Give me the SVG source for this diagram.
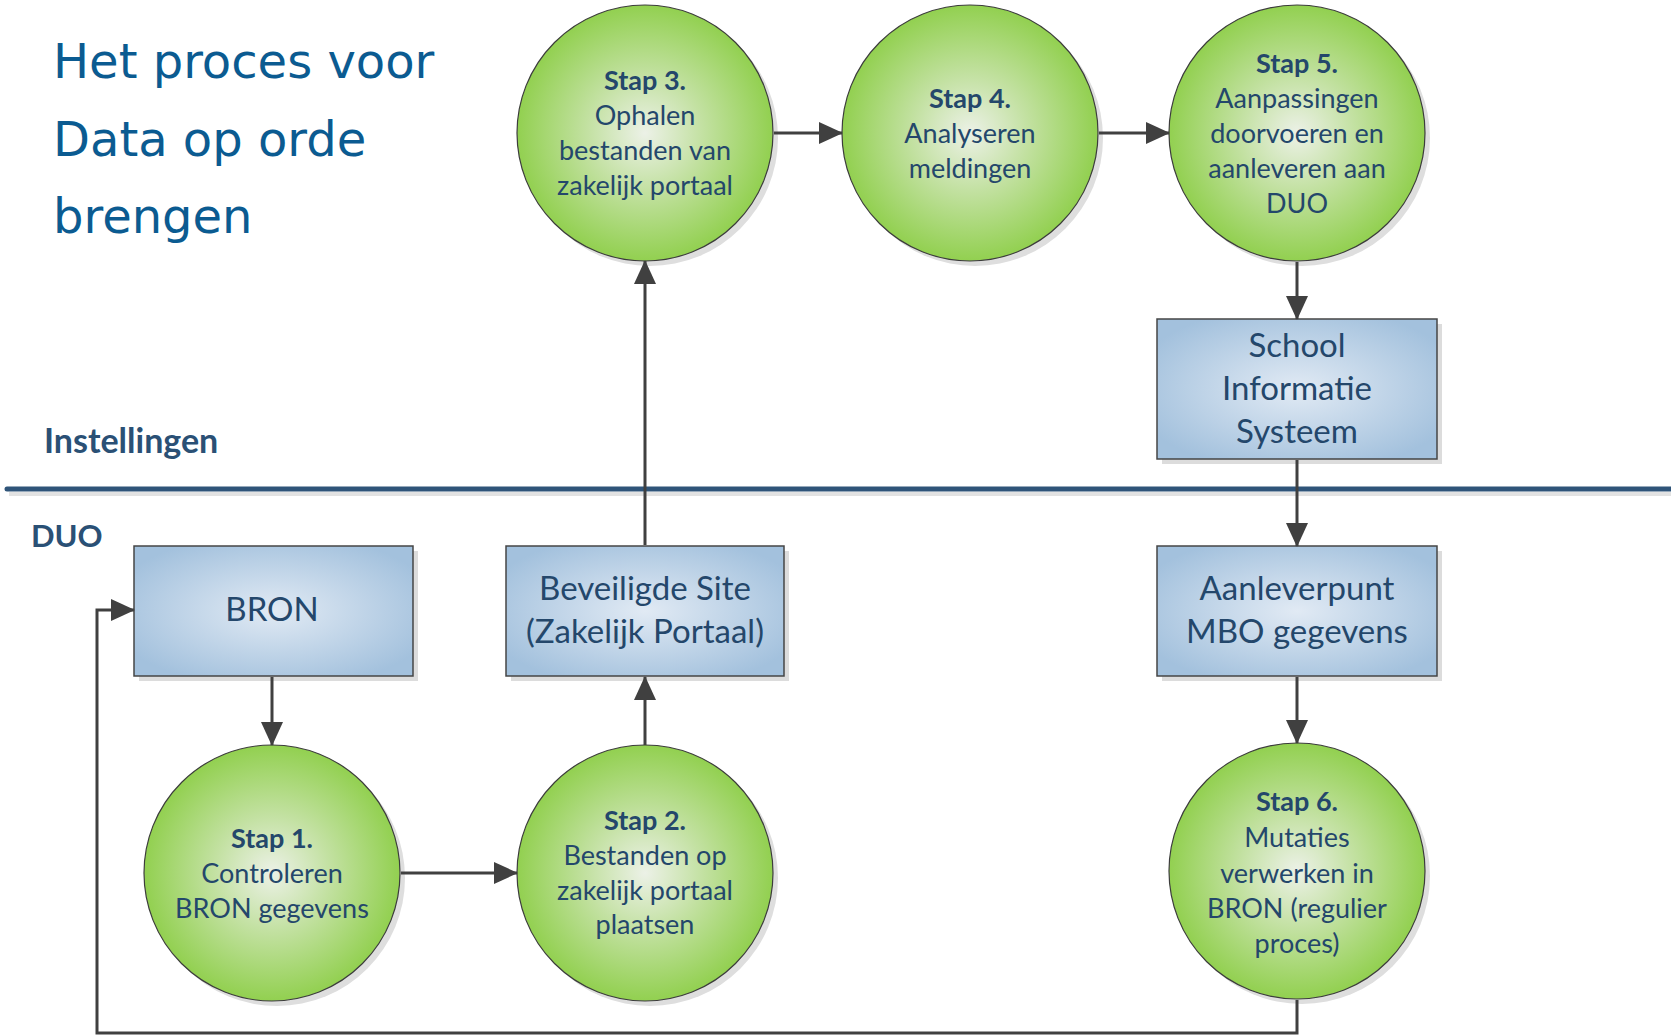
<svg xmlns="http://www.w3.org/2000/svg" width="1671" height="1036" viewBox="0 0 1671 1036">
<style>
.title{font-family:"DejaVu Sans",Verdana,sans-serif;font-size:48px;fill:#0b5b91}
.lane{font-family:Lato,"Liberation Sans",sans-serif;font-weight:bold;font-size:34px;fill:#2a5075}
.ct{font-family:Lato,"Liberation Sans",sans-serif;font-size:27px;fill:#24476b;text-anchor:middle}
.ct .b{font-weight:bold}
.rt{font-family:Lato,"Liberation Sans",sans-serif;font-size:33px;fill:#24476b;text-anchor:middle}
.circ{fill:url(#gGreen);stroke:#3c3c3c;stroke-width:1.2}
.csh{fill:#dedede}
.box{fill:url(#gBlue);stroke:#454545;stroke-width:1.5}
.bsh{fill:#dcdcdc}
.con{fill:none;stroke:#404040;stroke-width:3;marker-end:url(#arr)}
</style>
<defs>
<radialGradient id="gGreen" cx="0.5" cy="0.5" r="0.5">
<stop offset="0" stop-color="#ecf1e7"/>
<stop offset="0.45" stop-color="#c3e1a2"/>
<stop offset="1" stop-color="#92d050"/>
</radialGradient>
<radialGradient id="gBlue" cx="0.5" cy="0.5" r="0.6">
<stop offset="0" stop-color="#e1eaf4"/>
<stop offset="1" stop-color="#a3c1dd"/>
</radialGradient>
<marker id="arr" viewBox="0 0 24 22" refX="23" refY="11" markerWidth="24" markerHeight="22" markerUnits="userSpaceOnUse" orient="auto">
<path d="M0,0 L24,11 L0,22 Z" fill="#404040"/>
</marker>
</defs>
<rect width="1671" height="1036" fill="#ffffff"/>

<g id="title">
<text class="title" x="53" y="78">Het proces voor</text>
<text class="title" x="53" y="156">Data op orde</text>
<text class="title" x="53" y="233">brengen</text>
</g>

<g id="divider">
<line x1="9" y1="494" x2="1671" y2="494" stroke="#e2e2e2" stroke-width="4"/>
<line x1="7" y1="489" x2="1671" y2="489" stroke="#2f5479" stroke-width="5" stroke-linecap="round"/>
<text class="lane" x="44" y="453">Instellingen</text>
<text class="lane" x="31" y="547" style="font-size:31px">DUO</text>
</g>

<g id="bron">
<rect class="bsh" x="139" y="551" width="279" height="130"/>
<rect class="box" x="134" y="546" width="279" height="130"/>
<text class="rt" x="272" y="621">BRON</text>
</g>

<g id="beveiligde-site">
<rect class="bsh" x="511" y="551" width="278" height="130"/>
<rect class="box" x="506" y="546" width="278" height="130"/>
<text class="rt" x="645" y="600">Beveiligde Site</text>
<text class="rt" x="645" y="643">(Zakelijk Portaal)</text>
</g>

<g id="aanleverpunt">
<rect class="bsh" x="1162" y="551" width="280" height="130"/>
<rect class="box" x="1157" y="546" width="280" height="130"/>
<text class="rt" x="1297" y="600">Aanleverpunt</text>
<text class="rt" x="1297" y="643">MBO gegevens</text>
</g>

<g id="sis">
<rect class="bsh" x="1162" y="324" width="280" height="140"/>
<rect class="box" x="1157" y="319" width="280" height="140"/>
<text class="rt" x="1297" y="357">School</text>
<text class="rt" x="1297" y="400">Informatie</text>
<text class="rt" x="1297" y="443">Systeem</text>
</g>

<g id="stap1">
<circle class="csh" cx="277" cy="878" r="128"/>
<circle class="circ" cx="272" cy="873" r="128"/>
<text class="ct"><tspan class="b" x="272" y="848">Stap 1.</tspan><tspan x="272" y="883">Controleren</tspan><tspan x="272" y="918">BRON gegevens</tspan></text>
</g>

<g id="stap2">
<circle class="csh" cx="650" cy="878" r="128"/>
<circle class="circ" cx="645" cy="873" r="128"/>
<text class="ct"><tspan class="b" x="645" y="830">Stap 2.</tspan><tspan x="645" y="865">Bestanden op</tspan><tspan x="645" y="900">zakelijk portaal</tspan><tspan x="645" y="934">plaatsen</tspan></text>
</g>

<g id="stap3">
<circle class="csh" cx="650" cy="138" r="128"/>
<circle class="circ" cx="645" cy="133" r="128"/>
<text class="ct"><tspan class="b" x="645" y="90">Stap 3.</tspan><tspan x="645" y="125">Ophalen</tspan><tspan x="645" y="160">bestanden van</tspan><tspan x="645" y="195">zakelijk portaal</tspan></text>
</g>

<g id="stap4">
<circle class="csh" cx="975" cy="138" r="128"/>
<circle class="circ" cx="970" cy="133" r="128"/>
<text class="ct"><tspan class="b" x="970" y="108">Stap 4.</tspan><tspan x="970" y="143">Analyseren</tspan><tspan x="970" y="178">meldingen</tspan></text>
</g>

<g id="stap5">
<circle class="csh" cx="1302" cy="138" r="128"/>
<circle class="circ" cx="1297" cy="133" r="128"/>
<text class="ct"><tspan class="b" x="1297" y="73">Stap 5.</tspan><tspan x="1297" y="108">Aanpassingen</tspan><tspan x="1297" y="143">doorvoeren en</tspan><tspan x="1297" y="178">aanleveren aan</tspan><tspan x="1297" y="213">DUO</tspan></text>
</g>

<g id="stap6">
<circle class="csh" cx="1302" cy="876" r="128"/>
<circle class="circ" cx="1297" cy="871" r="128"/>
<text class="ct"><tspan class="b" x="1297" y="811">Stap 6.</tspan><tspan x="1297" y="847">Mutaties</tspan><tspan x="1297" y="883">verwerken in</tspan><tspan x="1297" y="918">BRON (regulier</tspan><tspan x="1297" y="953">proces)</tspan></text>
</g>

<g id="connectors">
<path class="con" d="M272,677 V745"/>
<path class="con" d="M401,873 H517"/>
<path class="con" d="M645,745 V677"/>
<path class="con" d="M645,545 V261"/>
<path class="con" d="M774,133 H842"/>
<path class="con" d="M1099,133 H1169"/>
<path class="con" d="M1297,262 V319"/>
<path class="con" d="M1297,460 V546"/>
<path class="con" d="M1297,677 V743"/>
<path class="con" d="M1297,1000 V1033 H97 V610 H134"/>
</g>
</svg>
